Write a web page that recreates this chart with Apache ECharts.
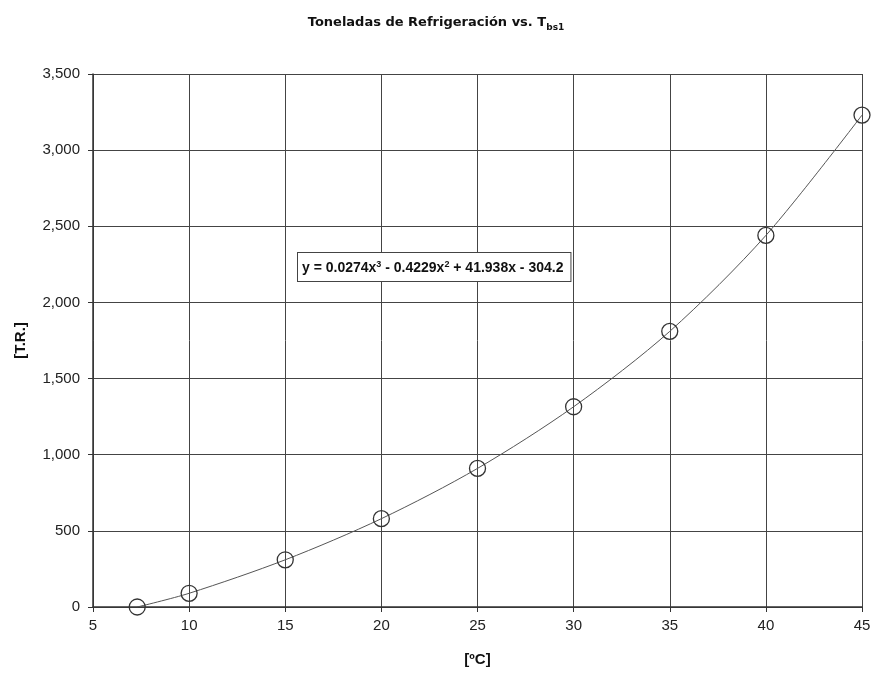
<!DOCTYPE html>
<html>
<head>
<meta charset="utf-8">
<script src="https://cdn.jsdelivr.net/npm/echarts@6/dist/echarts.min.js"></script>
<style>
html,body{margin:0;padding:0;background:#fff;}
#chart{width:872px;height:674px;}
</style>
</head>
<body>
<div id="chart"></div>
<script>
var temperatures = [7.3, 10, 15, 20, 25, 30, 35, 40, 45];
var tonnage = [0, 90, 310, 580, 910, 1315, 1810, 2440, 3230];
var equationText = 'y = 0.0274x{sup|3} - 0.4229x{sup|2} + 41.938x - 304.2';

var chart = echarts.init(document.getElementById('chart'));
var pts = temperatures.map(function (t, i) { return [t, tonnage[i]]; });
var font = 'Liberation Sans, Arial, sans-serif';
var titleFont = 'DejaVu Sans, Verdana, sans-serif';

chart.setOption({
  backgroundColor: '#ffffff',
  animation: false,
  title: {
    text: 'Toneladas de Refrigeración vs. T{sub|bs1}',
    left: 'center',
    top: 9,
    textStyle: {
      fontFamily: titleFont, fontSize: 13, fontWeight: 'bold', color: '#111',
      rich: { sub: { fontFamily: titleFont, fontSize: 9, fontWeight: 'bold', color: '#111', verticalAlign: 'bottom', padding: [9, 0, 0, 0] } }
    }
  },
  grid: { left: 93, right: 10, top: 74, bottom: 67, containLabel: false, outerBoundsMode: 'none' },
  xAxis: {
    type: 'value', min: 5, max: 45, interval: 5,
    name: '[ºC]', nameLocation: 'middle', nameGap: 45,
    nameTextStyle: { fontFamily: font, fontSize: 15, fontWeight: 'bold', color: '#111' },
    axisLine: { show: true, lineStyle: { color: '#333', width: 1.5 } },
    axisTick: { show: true, length: 5, lineStyle: { color: '#333' } },
    axisLabel: { fontFamily: font, fontSize: 15, color: '#222', margin: 11 },
    splitLine: { show: true, lineStyle: { color: '#444', width: 1 } }
  },
  yAxis: {
    type: 'value', min: 0, max: 3500, interval: 500,
    name: '[T.R.]', nameLocation: 'middle', nameGap: 65, nameRotate: 90,
    nameTextStyle: { fontFamily: font, fontSize: 15, fontWeight: 'bold', color: '#111' },
    axisLine: { show: true, lineStyle: { color: '#333', width: 1.5 } },
    axisTick: { show: true, length: 5, lineStyle: { color: '#333' } },
    axisLabel: {
      fontFamily: font, fontSize: 15, color: '#222', margin: 13,
      formatter: function (v) { return v.toLocaleString('en-US'); }
    },
    splitLine: { show: true, lineStyle: { color: '#444', width: 1 } }
  },
  series: [{
    type: 'line',
    data: pts,
    smooth: 0.3,
    symbol: 'circle',
    symbolSize: 16,
    showAllSymbol: true,
    itemStyle: { color: 'rgba(255,255,255,0)', borderColor: '#333', borderWidth: 1.3 },
    lineStyle: { color: '#555', width: 1 },
    z: 3
  }],
  graphic: [{
    type: 'text',
    left: 297, top: 252,
    z: 10,
    style: {
      text: equationText,
      fontFamily: font, fontSize: 14, fontWeight: 'bold', fill: '#111',
      backgroundColor: '#fff', borderColor: '#444', borderWidth: 1,
      padding: [7, 7, 5, 4],
      rich: { sup: { fontFamily: font, fontSize: 9, fontWeight: 'bold', fill: '#111', verticalAlign: 'top', padding: [0, 0, 7, 0] } }
    }
  }]
});
</script>
</body>
</html>
